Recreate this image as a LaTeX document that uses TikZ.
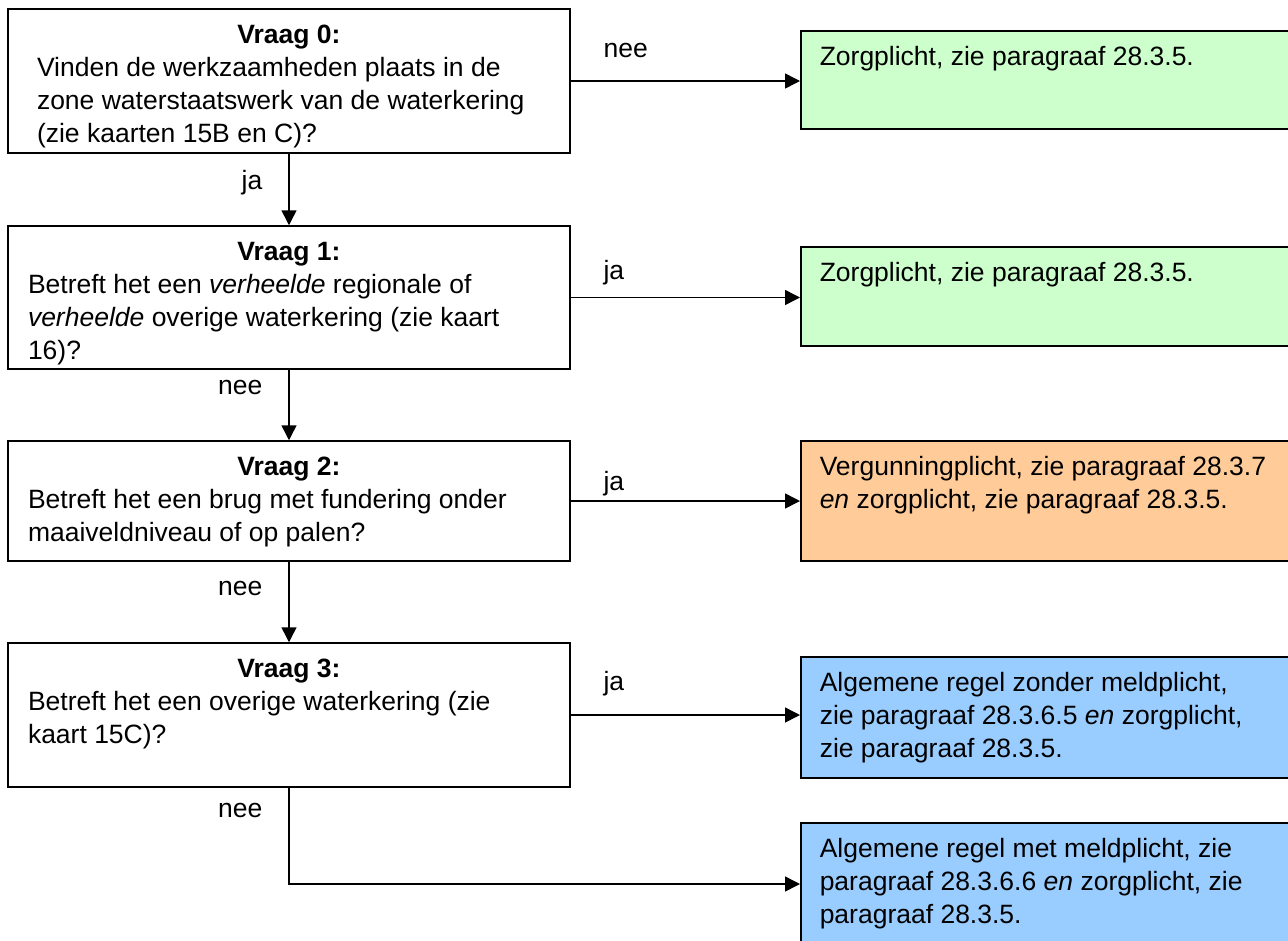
\documentclass[tikz,border=0pt]{standalone}
\usepackage{fontspec}
\setmainfont{Liberation Sans}
\usetikzlibrary{arrows.meta}
\definecolor{groen}{HTML}{CCFFCC}
\definecolor{oranje}{HTML}{FFCC99}
\definecolor{blauw}{HTML}{99CCFF}
\newcommand{\vaktekst}[3]{\parbox[c][#1][t]{522pt}{\vspace*{11pt}\centering\strut\textbf{#2}\par\raggedright#3\par}}
\newcommand{\gevolgtekst}[2]{\parbox[c][#1][t]{470pt}{\vspace*{11pt}\raggedright\strut#2\par}}
\tikzset{
	vraag/.style={draw, line width=1.5pt, fill=white, inner xsep=20pt, inner ysep=0pt},
	gevolg/.style={draw, line width=1.5pt, anchor=west, inner xsep=19pt, inner ysep=0pt},
	pijl/.style={line width=1.5pt, -{Triangle[length=15pt, width=15pt]}},
	lbl/.style={inner sep=0pt}
}

\begin{document}
\begin{tikzpicture}[x=1pt, y=-1pt, font=\fontsize{26.5}{33}\selectfont]
			%%%%% START %%%%%
			\path[use as bounding box, fill=white] (0,0) rectangle (1288,940);
			
			% vragen
			\node[vraag] (v0) at (289,81) {\vaktekst{144pt}{Vraag 0:}{\leftskip=9pt Vinden de werkzaamheden plaats in de\\zone waterstaatswerk van de waterkering\\(zie kaarten 15B en C)?}};
			\node[vraag] (v1) at (289,297.5) {\vaktekst{143pt}{Vraag 1:}{Betreft het een \emph{verheelde} regionale of\\\emph{verheelde} overige waterkering (zie kaart\\16)?}};
			\node[vraag] (v2) at (289,501) {\vaktekst{120pt}{Vraag 2:}{Betreft het een brug met fundering onder\\maaiveldniveau of op palen?}};
			\node[vraag] (v3) at (289,715) {\vaktekst{144pt}{Vraag 3:}{Betreft het een overige waterkering (zie\\kaart 15C)?}};
			
			% gevolgen
			\node[gevolg, fill=groen] (z0) at (800,80) {\gevolgtekst{98pt}{Zorgplicht, zie paragraaf 28.3.5.}};
			\node[gevolg, fill=groen] (z1) at (800,296.5) {\gevolgtekst{99pt}{Zorgplicht, zie paragraaf 28.3.5.}};
			\node[gevolg, fill=oranje] (z2) at (800,501) {\gevolgtekst{120pt}{Vergunningplicht, zie paragraaf 28.3.7\\\emph{en} zorgplicht, zie paragraaf 28.3.5.}};
			\node[gevolg, fill=blauw] (z3) at (800,717.5) {\gevolgtekst{121pt}{Algemene regel zonder meldplicht,\\zie paragraaf 28.3.6.5 \emph{en} zorgplicht,\\zie paragraaf 28.3.5.}};
			\node[gevolg, fill=blauw] (z4) at (800,884) {\gevolgtekst{122pt}{Algemene regel met meldplicht, zie\\paragraaf 28.3.6.6 \emph{en} zorgplicht, zie\\paragraaf 28.3.5.}};
			
			% pijlen omlaag
			\draw[pijl] (v0) -- node[lbl, pos=0.4, left=26pt] {ja} (v1);
			\draw[pijl] (v1) -- node[lbl, pos=0.25, left=26pt] {nee} (v2);
			\draw[pijl] (v2) -- node[lbl, pos=0.33, left=26pt] {nee} (v3);
			\draw[pijl] (v3) |- node[lbl, pos=0.12, left=26pt] {nee} (z4);
			
			% pijlen naar rechts
			\draw[pijl] (v0.east) -- node[lbl, pos=0.14, anchor=base west, yshift=24pt] {nee} (v0.east -| z0.west);
			\draw[pijl] (v1.east) -- node[lbl, pos=0.14, anchor=base west, yshift=18pt] {ja} (v1.east -| z1.west);
			\draw[pijl] (v2.east) -- node[lbl, pos=0.14, anchor=base west, yshift=11pt] {ja} (v2.east -| z2.west);
			\draw[pijl] (v3.east) -- node[lbl, pos=0.14, anchor=base west, yshift=25pt] {ja} (v3.east -| z3.west);
			%%%%% END %%%%%
\end{tikzpicture}
\end{document}
